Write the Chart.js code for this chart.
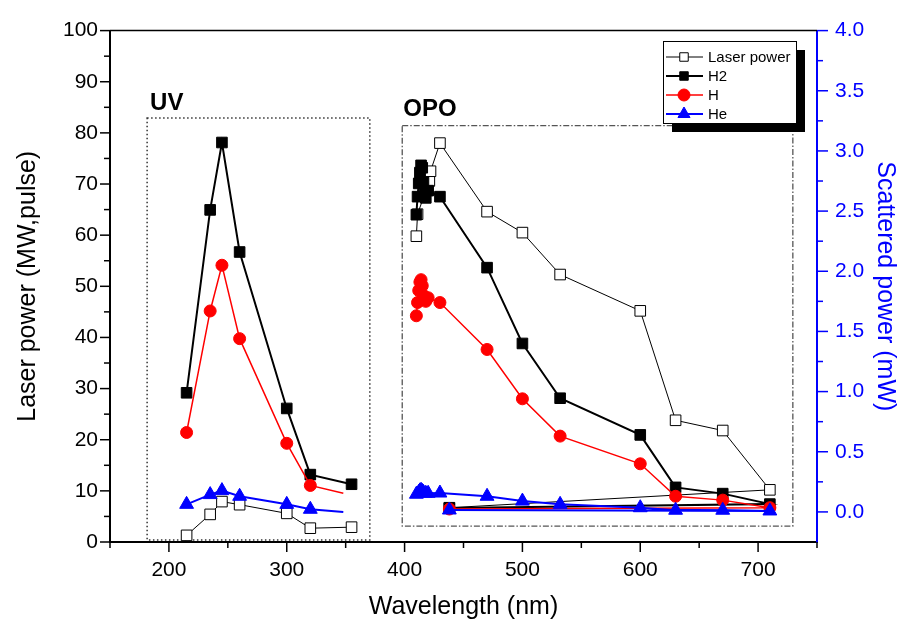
<!DOCTYPE html>
<html>
<head>
<meta charset="utf-8">
<title>Laser power and scattered power vs wavelength</title>
<script src="https://cdn.jsdelivr.net/npm/chart.js@4.4.1/dist/chart.umd.min.js"></script>
<style>
  html, body { margin: 0; padding: 0; background: #fff; }
  #chart { display: block; }
</style>
</head>
<body>
<canvas id="chart" width="906" height="627"></canvas>
<script>
// wavelengths (nm), UV dye laser part and OPO part
const uvWave = [215, 235, 245, 260, 300, 320, 355];
const uvWaveShort = [215, 235, 245, 260, 300, 320, 348]; // H and He lines stop before 355
const laserOpoWave = [410, 411, 421, 422, 430, 470, 500, 532, 600, 630, 670, 710, 438];
const h2OpoWave = [410, 411, 412, 413, 414, 415, 416, 417, 418, 420, 430, 470, 500, 532, 600, 630, 670, 710, 438];
const hOpoWave = [410, 411, 412, 413, 414, 415, 416, 418, 420, 430, 470, 500, 532, 600, 630, 670, 710, 438];
const heOpoWave = [410, 412, 413, 414, 415, 416, 418, 420, 430, 470, 500, 532, 600, 630, 670, 710, 438];

// laser power (MW,pulse) - left axis
const laserUV = [1.3, 5.4, 7.9, 7.3, 5.6, 2.7, 2.9];
const laserOpo = [59.8, 64.1, 70.6, 72.5, 78.0, 64.6, 60.5, 52.3, 45.2, 23.8, 21.8, 10.2, 6.7];

// scattered power (mW) - right axis
const h2UV = [0.99, 2.51, 3.07, 2.16, 0.86, 0.31, 0.23];
const h2Opo = [2.47, 2.62, 2.73, 2.82, 2.88, 2.86, 2.74, 2.66, 2.61, 2.67, 2.62, 2.03, 1.40, 0.945, 0.64, 0.204, 0.152, 0.065, 0.033];
const hUV = [0.66, 1.67, 2.05, 1.44, 0.57, 0.22, 0.155];
const hOpo = [1.63, 1.74, 1.84, 1.91, 1.93, 1.88, 1.80, 1.75, 1.78, 1.74, 1.35, 0.94, 0.63, 0.40, 0.13, 0.098, 0.035, 0.024];
const heUV = [0.063, 0.144, 0.177, 0.13, 0.063, 0.022, 0.0];
const heOpo = [0.147, 0.163, 0.175, 0.18, 0.171, 0.163, 0.155, 0.155, 0.157, 0.13, 0.09, 0.063, 0.035, 0.014, 0.014, 0.008, 0.016];

// ticks
const xTickValues = [150, 200, 250, 300, 350, 400, 450, 500, 550, 600, 650, 700, 750];
const xTickLabels = ["200", "300", "400", "500", "600", "700"];
const leftTickValues = [0, 5, 10, 15, 20, 25, 30, 35, 40, 45, 50, 55, 60, 65, 70, 75, 80, 85, 90, 95, 100];
const leftTickLabels = ["0", "10", "20", "30", "40", "50", "60", "70", "80", "90", "100"];
const rightTickValues = [0, 0.25, 0.5, 0.75, 1, 1.25, 1.5, 1.75, 2, 2.25, 2.5, 2.75, 3, 3.25, 3.5, 3.75, 4];
const rightTickLabels = ["0.0", "0.5", "1.0", "1.5", "2.0", "2.5", "3.0", "3.5", "4.0"];

// the two measurement regions (annotation boxes), in axis units
const uvBox = { x0: 181.5, x1: 370.5, y0: 0.4, y1: 82.9 };
const opoBox = { x0: 398, x1: 729.5, y0: 3.1, y1: 81.4 };

const FONT = "'Liberation Sans', Arial, sans-serif";

function pts(waves, vals) {
  return waves.map((x, i) => ({ x: x, y: vals[i] }));
}
// UV part, a gap, then the OPO part
function joined(uvW, uvV, opoW, opoV) {
  return pts(uvW, uvV).concat([{ x: 380, y: null }], pts(opoW, opoV));
}

function tickLabel(v, labels, digits) {
  const s = digits ? v.toFixed(digits) : String(v);
  return labels.includes(s) ? s : "";
}

function drawMarker(ctx, style, x, y, r, fill, stroke) {
  ctx.save();
  ctx.fillStyle = fill;
  ctx.strokeStyle = stroke;
  ctx.lineWidth = 1;
  ctx.beginPath();
  if (style === "rect") {
    const s = r * Math.SQRT1_2;
    ctx.rect(x - s, y - s, 2 * s, 2 * s);
  } else if (style === "circle") {
    ctx.arc(x, y, r, 0, Math.PI * 2);
  } else {
    ctx.moveTo(x, y - r);
    ctx.lineTo(x + r * 0.866, y + r * 0.5);
    ctx.lineTo(x - r * 0.866, y + r * 0.5);
    ctx.closePath();
  }
  ctx.fill();
  ctx.stroke();
  ctx.restore();
}

const extras = {
  id: "extras",
  beforeDatasetsDraw(chart) {
    const { ctx, scales } = chart;
    const x = scales.x, y = scales.y;
    ctx.save();
    ctx.lineWidth = 1.5;
    ctx.strokeStyle = "#333";
    ctx.setLineDash([1.5, 2.5]);
    ctx.strokeRect(x.getPixelForValue(uvBox.x0), y.getPixelForValue(uvBox.y1),
      x.getPixelForValue(uvBox.x1) - x.getPixelForValue(uvBox.x0),
      y.getPixelForValue(uvBox.y0) - y.getPixelForValue(uvBox.y1));
    ctx.strokeStyle = "#555";
    ctx.lineWidth = 1.3;
    ctx.setLineDash([6, 2, 1.5, 2]);
    ctx.strokeRect(x.getPixelForValue(opoBox.x0), y.getPixelForValue(opoBox.y1),
      x.getPixelForValue(opoBox.x1) - x.getPixelForValue(opoBox.x0),
      y.getPixelForValue(opoBox.y0) - y.getPixelForValue(opoBox.y1));
    ctx.restore();

    // region labels
    ctx.save();
    ctx.fillStyle = "#000";
    ctx.font = "bold 24px " + FONT;
    ctx.textBaseline = "alphabetic";
    ctx.fillText("UV", x.getPixelForValue(uvBox.x0) + 3, y.getPixelForValue(uvBox.y1) - 8);
    ctx.fillText("OPO", x.getPixelForValue(opoBox.x0) + 1, y.getPixelForValue(opoBox.y1) - 10);
    ctx.restore();
  },
  afterDraw(chart) {
    const { ctx, chartArea, scales } = chart;
    const { left, right, top, bottom } = chartArea;
    ctx.save();
    // top frame line
    ctx.strokeStyle = "#000";
    ctx.lineWidth = 1.5;
    ctx.beginPath();
    ctx.moveTo(left, top);
    ctx.lineTo(right, top);
    ctx.stroke();

    // tick marks, long for labelled ticks
    ctx.lineWidth = 1.5;
    scales.y.ticks.forEach(t => {
      const py = scales.y.getPixelForValue(t.value);
      const len = t.label ? 10 : 6;
      ctx.beginPath(); ctx.moveTo(left - len, py); ctx.lineTo(left, py); ctx.stroke();
    });
    scales.x.ticks.forEach(t => {
      const px = scales.x.getPixelForValue(t.value);
      const len = t.label ? 10 : 6;
      ctx.beginPath(); ctx.moveTo(px, bottom); ctx.lineTo(px, bottom + len); ctx.stroke();
    });
    ctx.strokeStyle = "#0000ff";
    scales.y1.ticks.forEach(t => {
      const py = scales.y1.getPixelForValue(t.value);
      const len = t.label ? 11 : 6;
      ctx.beginPath(); ctx.moveTo(right, py); ctx.lineTo(right + len, py); ctx.stroke();
    });
    ctx.restore();

    // legend with drop shadow
    const bx = 663, by = 41, bw = 133, bh = 82;
    ctx.save();
    ctx.fillStyle = "#000";
    ctx.fillRect(bx + 9, by + 9, bw, bh);
    ctx.fillStyle = "#fff";
    ctx.fillRect(bx, by, bw, bh);
    ctx.strokeStyle = "#000";
    ctx.lineWidth = 1;
    ctx.strokeRect(bx + 0.5, by + 0.5, bw, bh);
    ctx.font = "15px " + FONT;
    ctx.textBaseline = "middle";
    chart.data.datasets.forEach((ds, i) => {
      const ly = by + 16 + i * 19;
      ctx.strokeStyle = ds.borderColor;
      ctx.lineWidth = ds.borderWidth;
      ctx.beginPath(); ctx.moveTo(bx + 3, ly); ctx.lineTo(bx + 40, ly); ctx.stroke();
      drawMarker(ctx, ds.pointStyle, bx + 21, ly, ds.pointStyle === "triangle" ? 7 : 6,
        ds.pointBackgroundColor, ds.pointBorderColor);
      ctx.fillStyle = "#000";
      ctx.fillText(ds.label, bx + 45, ly + 1);
    });
    ctx.restore();
  }
};

const isLastUV = ctx => ctx.dataIndex === uvWaveShort.length - 1;

new Chart(document.getElementById("chart"), {
  type: "line",
  data: {
    datasets: [
      {
        label: "Laser power",
        data: joined(uvWave, laserUV, laserOpoWave, laserOpo),
        yAxisID: "y",
        borderColor: "#000",
        borderWidth: 1,
        pointStyle: "rect",
        pointRadius: 7.5,
        pointBackgroundColor: "#fff",
        pointBorderColor: "#000",
        pointBorderWidth: 1,
        order: 4
      },
      {
        label: "H2",
        data: joined(uvWave, h2UV, h2OpoWave, h2Opo),
        yAxisID: "y1",
        borderColor: "#000",
        borderWidth: 2,
        pointStyle: "rect",
        pointRadius: 7.5,
        pointBackgroundColor: "#000",
        pointBorderColor: "#000",
        pointBorderWidth: 1,
        order: 3
      },
      {
        label: "H",
        data: joined(uvWaveShort, hUV, hOpoWave, hOpo),
        yAxisID: "y1",
        borderColor: "#ff0000",
        borderWidth: 1.5,
        pointStyle: "circle",
        pointRadius: ctx => (isLastUV(ctx) ? 0 : 6),
        pointBackgroundColor: "#ff0000",
        pointBorderColor: "#ff0000",
        pointBorderWidth: 1,
        order: 2
      },
      {
        label: "He",
        data: joined(uvWaveShort, heUV, heOpoWave, heOpo),
        yAxisID: "y1",
        borderColor: "#0000ff",
        borderWidth: 2,
        pointStyle: "triangle",
        pointRadius: ctx => (isLastUV(ctx) ? 0 : 8),
        pointBackgroundColor: "#0000ff",
        pointBorderColor: "#0000ff",
        pointBorderWidth: 1,
        order: 1
      }
    ]
  },
  options: {
    responsive: false,
    animation: false,
    devicePixelRatio: 1,
    layout: { padding: { top: 20, left: 0, right: 0, bottom: 0 } },
    plugins: { legend: { display: false }, tooltip: { enabled: false } },
    elements: { line: { tension: 0 } },
    scales: {
      x: {
        type: "linear",
        position: "bottom",
        min: 150,
        max: 750,
        afterBuildTicks: s => { s.ticks = xTickValues.map(v => ({ value: v })); },
        afterFit: s => { s.height = 85; },
        ticks: {
          autoSkip: false, maxRotation: 0, padding: 16, color: "#000",
          font: { family: FONT, size: 21 },
          callback: v => tickLabel(v, xTickLabels)
        },
        grid: { display: false, drawTicks: false },
        border: { color: "#000", width: 2 },
        title: {
          display: true, text: "Wavelength (nm)", color: "#000",
          font: { family: FONT, size: 25 }, padding: { top: 0, bottom: 5 }
        }
      },
      y: {
        type: "linear",
        position: "left",
        min: 0,
        max: 100,
        afterBuildTicks: s => { s.ticks = leftTickValues.map(v => ({ value: v })); },
        afterFit: s => { s.width = 110; },
        ticks: {
          autoSkip: false, padding: 12, color: "#000",
          font: { family: FONT, size: 21 },
          callback: v => tickLabel(v, leftTickLabels)
        },
        grid: { display: false, drawTicks: false },
        border: { color: "#000", width: 2 },
        title: {
          display: true, text: "Laser power (MW,pulse)", color: "#000",
          font: { family: FONT, size: 25 }, padding: { top: 13, bottom: 0 }
        }
      },
      y1: {
        type: "linear",
        position: "right",
        min: -0.25,
        max: 4,
        afterBuildTicks: s => { s.ticks = rightTickValues.map(v => ({ value: v })); },
        afterFit: s => { s.width = 89; },
        ticks: {
          autoSkip: false, padding: 18, color: "#0000ff",
          font: { family: FONT, size: 21 },
          callback: v => tickLabel(v, rightTickLabels, 1)
        },
        grid: { display: false, drawTicks: false },
        border: { color: "#0000ff", width: 2 },
        title: {
          display: true, text: "Scattered power (mW)", color: "#0000ff",
          font: { family: FONT, size: 25 }, padding: { top: 6, bottom: 0 }
        }
      }
    }
  },
  plugins: [extras]
});
</script>
</body>
</html>
